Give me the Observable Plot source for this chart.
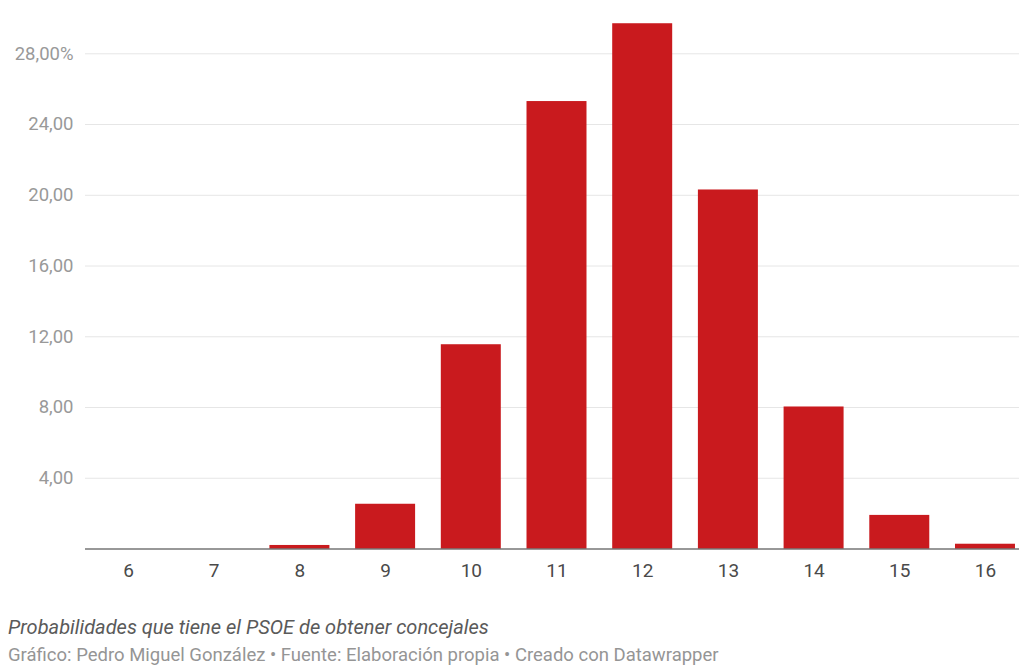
<!DOCTYPE html>
<html>
<head>
<meta charset="utf-8">
<script src="https://cdn.jsdelivr.net/npm/d3@7"></script>
<script src="https://cdn.jsdelivr.net/npm/@observablehq/plot@0.6"></script>
<style>
  html, body { margin: 0; padding: 0; background: #fff; }
  body { width: 1019px; height: 668px; overflow: hidden; font-family: Roboto, "Noto Sans", sans-serif; }
  #chart svg { display: block; }
  .caption { position: absolute; left: 8px; top: 615px; font-size: 20px; font-style: italic; color: #5a5a5a; white-space: nowrap; }
  .credit { position: absolute; left: 8px; top: 644px; font-size: 18.5px; color: #959595; white-space: nowrap; }
</style>
</head>
<body>
<div id="chart"></div>
<div class="caption">Probabilidades que tiene el PSOE de obtener concejales</div>
<div class="credit">Gráfico: Pedro Miguel González • Fuente: Elaboración propia • Creado con Datawrapper</div>
<script>
const concejales = ["6", "7", "8", "9", "10", "11", "12", "13", "14", "15", "16"];
const probabilidad = [0, 0, 0.2, 2.53, 11.55, 25.3, 29.7, 20.3, 8.03, 1.9, 0.27];
const yTicks = [4, 8, 12, 16, 20, 24, 28];
const yTickLabels = ["4,00", "8,00", "12,00", "16,00", "20,00", "24,00", "28,00%"];

const data = concejales.map((c, i) => ({ c, v: probabilidad[i] }));
const labelOf = new Map(yTicks.map((t, i) => [t, yTickLabels[i]]));

const chart = Plot.plot({
  width: 1019,
  height: 590,
  marginLeft: 85,
  marginRight: 0,
  marginTop: 0,
  marginBottom: 41,
  style: { fontFamily: "Roboto, 'Noto Sans', sans-serif", background: "#fff" },
  x: { type: "band", domain: concejales, range: [85, 1028], paddingInner: 0.3, paddingOuter: 0.152, align: 0.5, round: false },
  y: { domain: [0, 28], range: [548.5, 53.3] },
  marks: [
    Plot.ruleY(yTicks, { stroke: "#e6e6e6", strokeWidth: 1 }),
    Plot.barY(data, { x: "c", y: "v", fill: "#c91a1e" }),
    Plot.ruleY([0], { stroke: "#333", strokeWidth: 1.2 }),
    Plot.axisX({ tickSize: 0, tickPadding: 14, fontSize: 19, color: "#4a4a4a", label: null }),
    Plot.axisY(yTicks, { tickSize: 0, tickPadding: 12, fontSize: 18.5, color: "#999", label: null, tickFormat: d => labelOf.get(d) })
  ]
});
document.getElementById("chart").appendChild(chart);
</script>
</body>
</html>
